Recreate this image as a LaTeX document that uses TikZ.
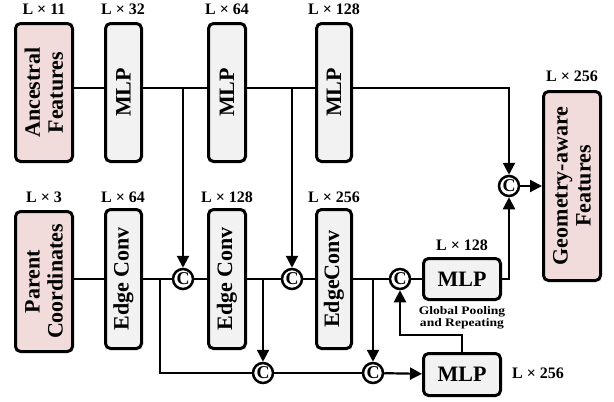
\documentclass[tikz,border=0pt]{standalone}
\usepackage{fontspec}
\setmainfont{Liberation Serif}
\usetikzlibrary{arrows.meta}
\definecolor{geoPink}{RGB}{242,220,219}
\definecolor{geoGray}{RGB}{242,242,242}

\begin{document}
\begin{tikzpicture}[x=1pt, y=-1pt,
  vbox/.style={draw, line width=3pt, rounded corners=5pt, rotate=90, inner sep=0pt,
    align=center, fill=geoGray, font=\bfseries\fontsize{22}{23}\selectfont},
  hbox/.style={draw, line width=3pt, rounded corners=5pt, inner sep=0pt,
    fill=geoGray, font=\bfseries\fontsize{22}{23}\selectfont},
  cat/.style={circle, draw, line width=2.5pt, fill=white, inner sep=0pt,
    minimum size=20pt, font=\bfseries\fontsize{18}{18}\selectfont},
  dim/.style={font=\bfseries\fontsize{16}{16}\selectfont},
  link/.style={line width=2.2pt},
  flow/.style={line width=2.2pt, -{Triangle[length=12pt,width=12pt]}}]
\useasboundingbox (0,0) rectangle (614,402);
\coordinate (rowA) at (0,88);
\coordinate (rowB) at (0,279);
\coordinate (poolY) at (0,335);
%% Upper branch: ancestral features
\node[vbox, fill=geoPink, minimum width=138, minimum height=57] (anc) at (44,92.5) {Ancestral\\Features};
\node[vbox, minimum width=138, minimum height=36] (mlpA) at (123.5,92.5) {MLP};
\node[vbox, minimum width=138, minimum height=37] (mlpB) at (227,92.5) {MLP};
\node[vbox, minimum width=138, minimum height=35] (mlpC) at (334,92.5) {MLP};
%% Lower branch: parent coordinates
\node[vbox, fill=geoPink, minimum width=140, minimum height=57] (par) at (44,281.5) {Parent\\Coordinates};
\node[vbox, minimum width=139, minimum height=36] (ecA) at (123.5,279) {Edge Conv};
\node[vbox, minimum width=139, minimum height=37] (ecB) at (227,279) {Edge Conv};
\node[vbox, minimum width=139, minimum height=35] (ecC) at (334,279) {EdgeConv};
\node[hbox, minimum width=77, minimum height=41] (mlpD) at (462,279) {MLP};
\node[hbox, minimum width=77, minimum height=42] (mlpE) at (462,374.5) {MLP};
%% Output
\node[vbox, fill=geoPink, minimum width=189, minimum height=57] (geo) at (572,186) {Geometry-aware\\Features};
%% Concatenations
\node[cat] (cA) at (183,279) {C};
\node[cat] (cB) at (292,279) {C};
\node[cat] (cC) at (400,279) {C};
\node[cat] (cD) at (263,373) {C};
\node[cat] (cE) at (373,373) {C};
\node[cat] (cTop) at (509,186) {C};
%% Feature sizes
\node[dim] (dAnc) at (44,9) {L × 11};
\node[dim] (dMlpA) at (123,9) {L × 32};
\node[dim] (dMlpB) at (227,9) {L × 64};
\node[dim] (dMlpC) at (334,9) {L × 128};
\node[dim] (dPar) at (44,197) {L × 3};
\node[dim] (dEcA) at (123,197) {L × 64};
\node[dim] (dEcB) at (227,197) {L × 128};
\node[dim] (dEcC) at (334,197) {L × 256};
\node[dim] (dMlpD) at (462,245) {L × 128};
\node[dim] (dMlpE) at (538,373) {L × 256};
\node[dim] (dGeo) at (572,76) {L × 256};
\node[font=\bfseries\fontsize{11.5}{10.5}\selectfont, align=center, xscale=1.18, transform shape] (pool) at (462,318) {Global Pooling\\and Repeating};
%% Upper connections
\draw[link] (anc.south |- rowA) -- (mlpA.north |- rowA);
\draw[link] (mlpA.south |- rowA) -- (mlpB.north |- rowA);
\draw[link] (mlpB.south |- rowA) -- (mlpC.north |- rowA);
\draw[flow] (mlpC.south |- rowA) -| (cTop);
\draw[flow] (cA |- rowA) -- (cA);
\draw[flow] (cB |- rowA) -- (cB);
%% Lower connections
\draw[link] (par.south |- rowB) -- (ecA.north |- rowB);
\draw[link] (ecA.south) -- (cA);
\draw[link] (cA) -- (ecB.north);
\draw[link] (ecB.south) -- (cB);
\draw[link] (cB) -- (ecC.north);
\draw[link] (ecC.south) -- (cC);
\draw[link] (cC) -- (mlpD);
\draw[flow] (mlpD.east) -| (cTop);
\draw[flow] (cTop) -- (geo.north);
\coordinate (tapA) at (160,279);
\draw[link] (tapA) |- (cD);
\draw[flow] (cD |- rowB) -- (cD);
\draw[link] (cD) -- (cE);
\draw[flow] (cE |- rowB) -- (cE);
\draw[flow] (cE) -- (mlpE);
\draw[flow] (mlpE.north) -- (mlpE.north |- poolY) -| (cC);
\end{tikzpicture}
\end{document}
